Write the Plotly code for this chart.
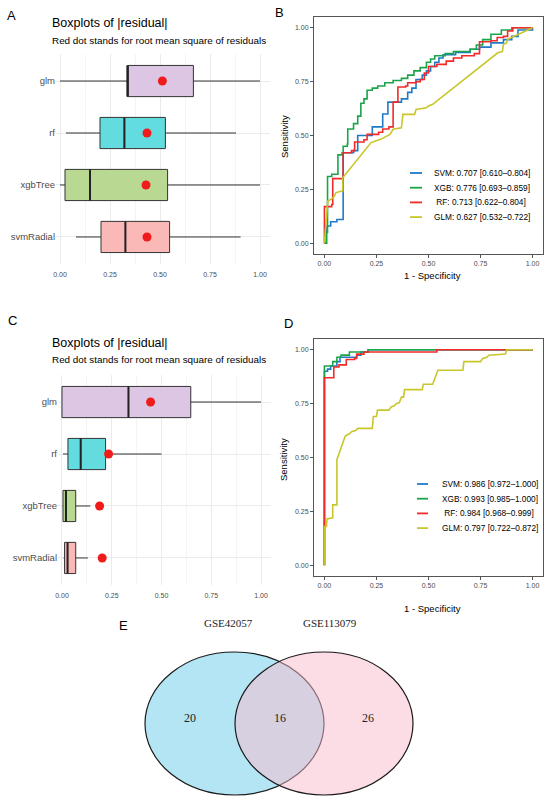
import plotly.graph_objects as go

W, H = 550, 800
FONT = "Liberation Sans, Arial, sans-serif"
SERIF = "Liberation Serif, Times New Roman, serif"


def px(x):
    # pixel column -> paper x
    return x / W


def py(y):
    # pixel row -> paper y
    return 1 - y / H


# ---- data -------------------------------------------------------------
models = ["glm", "rf", "xgbTree", "svmRadial"]
box_fill = ["#dcc6e4", "#62dcdf", "#b9d892", "#fab9b6"]
positions = [3, 2, 1, 0]

# panel A  |residual| box stats
a_low = [0.00, 0.03, 0.00, 0.08]
a_q1 = [0.337, 0.20, 0.025, 0.205]
a_med = [0.337, 0.322, 0.15, 0.327]
a_q3 = [0.667, 0.527, 0.538, 0.548]
a_high = [1.00, 0.88, 1.00, 0.903]
a_rmse = [0.512, 0.435, 0.43, 0.435]

# panel C  |residual| box stats
c_low = [0.00, 0.005, 0.003, 0.008]
c_q1 = [0.00, 0.03, 0.005, 0.013]
c_med = [0.334, 0.094, 0.02, 0.028]
c_q3 = [0.647, 0.219, 0.069, 0.069]
c_high = [1.00, 0.50, 0.142, 0.13]
c_rmse = [0.445, 0.234, 0.189, 0.202]

roc_names = ["SVM", "XGB", "RF", "GLM"]
roc_colors = ["#1f7bc8", "#1ba54b", "#f22a2a", "#c9c62c"]

auc_b = [0.707, 0.776, 0.713, 0.627]
auc_b_lo = [0.610, 0.693, 0.622, 0.532]
auc_b_hi = [0.804, 0.859, 0.804, 0.722]
auc_d = [0.986, 0.993, 0.984, 0.797]
auc_d_lo = [0.972, 0.985, 0.968, 0.722]
auc_d_hi = [1.000, 1.000, 0.999, 0.872]

# panel B ROC (step curves as hv corners, GLM as vertices)
svm_b_fpr = [0, 0.01, 0.03, 0.06, 0.09, 0.14, 0.16, 0.23, 0.28, 0.305, 0.37, 0.40, 0.42, 0.44,
             0.47, 0.49, 0.51, 0.53, 0.55, 0.57, 0.63, 0.70, 0.745, 0.80, 0.86, 0.90, 0.93, 1.0]
svm_b_tpr = [0, 0.08, 0.10, 0.11, 0.42, 0.43, 0.50, 0.54, 0.60, 0.655, 0.67, 0.70, 0.72, 0.76,
             0.78, 0.80, 0.82, 0.84, 0.86, 0.875, 0.885, 0.90, 0.91, 0.93, 0.945, 0.96, 0.99, 1.0]
xgb_b_fpr = [0, 0.01, 0.015, 0.035, 0.065, 0.085, 0.09, 0.11, 0.112, 0.14, 0.16, 0.175, 0.19, 0.205,
             0.23, 0.256, 0.29, 0.33, 0.37, 0.40, 0.43, 0.46, 0.49, 0.51, 0.53, 0.58, 0.62, 0.70,
             0.73, 0.76, 0.80, 0.85, 0.90, 1.0]
xgb_b_tpr = [0, 0.05, 0.31, 0.32, 0.41, 0.42, 0.45, 0.46, 0.53, 0.555, 0.59, 0.65, 0.67, 0.71,
             0.72, 0.73, 0.745, 0.755, 0.765, 0.78, 0.80, 0.815, 0.84, 0.855, 0.87, 0.88, 0.89, 0.90,
             0.92, 0.945, 0.97, 0.99, 1.0, 1.0]
rf_b_fpr = [0, 0, 0.035, 0.04, 0.09, 0.13, 0.145, 0.19, 0.205, 0.26, 0.28, 0.31, 0.33, 0.353,
            0.39, 0.40, 0.44, 0.46, 0.48, 0.50, 0.54, 0.585, 0.62, 0.66, 0.72, 0.745, 0.80, 0.83,
            0.86, 0.88, 0.905, 1.0]
rf_b_tpr = [0, 0.17, 0.18, 0.30, 0.42, 0.43, 0.47, 0.48, 0.505, 0.515, 0.53, 0.54, 0.655, 0.725,
            0.73, 0.745, 0.75, 0.76, 0.79, 0.82, 0.83, 0.845, 0.86, 0.87, 0.88, 0.935, 0.94, 0.955,
            0.96, 0.985, 1.0, 1.0]
glm_b_fpr = [0, 0.016, 0.032, 0.045, 0.056, 0.088, 0.088, 0.224, 0.27, 0.285, 0.30, 0.315, 0.33,
             0.37, 0.377, 0.433, 0.44, 0.49, 0.50, 0.52, 0.833, 0.855, 0.86, 0.875, 0.88, 1.0]
glm_b_tpr = [0, 0.196, 0.204, 0.215, 0.235, 0.243, 0.304, 0.467, 0.482, 0.49, 0.50, 0.505, 0.529,
             0.536, 0.598, 0.598, 0.621, 0.629, 0.637, 0.645, 0.884, 0.89, 0.923, 0.93, 0.946, 1.0]

# panel D ROC
svm_d_fpr = [0, 0, 0.015, 0.03, 0.06, 0.075, 0.15, 0.155, 0.175, 0.21, 1.0]
svm_d_tpr = [0, 0.90, 0.91, 0.925, 0.945, 0.965, 0.965, 0.975, 0.99, 1.0, 1.0]
xgb_d_fpr = [0, 0, 0.04, 0.06, 0.08, 0.12, 0.21, 1.0]
xgb_d_tpr = [0, 0.925, 0.945, 0.965, 0.975, 0.99, 1.0, 1.0]
rf_d_fpr = [0, 0, 0.045, 0.07, 0.105, 0.145, 0.155, 0.19, 0.54, 1.0]
rf_d_tpr = [0, 0.87, 0.92, 0.93, 0.955, 0.96, 0.98, 0.99, 1.0, 1.0]
glm_d_fpr = [0, 0, 0.01, 0.012, 0.04, 0.04, 0.06, 0.06, 0.10, 0.12, 0.13, 0.15, 0.16, 0.23, 0.235,
             0.25, 0.255, 0.31, 0.32, 0.335, 0.345, 0.36, 0.37, 0.38, 0.385, 0.47, 0.475, 0.52,
             0.545, 0.665, 0.67, 0.75, 0.76, 0.78, 0.79, 0.87, 0.875, 1.0]
glm_d_tpr = [0, 0.18, 0.18, 0.215, 0.22, 0.28, 0.28, 0.49, 0.60, 0.61, 0.62, 0.625, 0.635, 0.635,
             0.69, 0.69, 0.72, 0.72, 0.735, 0.74, 0.75, 0.755, 0.78, 0.78, 0.815, 0.815, 0.84, 0.84,
             0.905, 0.905, 0.945, 0.945, 0.96, 0.965, 0.975, 0.98, 1.0, 1.0]

# panel E venn
venn_sets = ["GSE42057", "GSE113079"]
venn_counts = [20, 16, 26]

roc_b = [(svm_b_fpr, svm_b_tpr, "hv"), (xgb_b_fpr, xgb_b_tpr, "hv"),
         (rf_b_fpr, rf_b_tpr, "hv"), (glm_b_fpr, glm_b_tpr, "linear")]
roc_d = [(svm_d_fpr, svm_d_tpr, "hv"), (xgb_d_fpr, xgb_d_tpr, "hv"),
         (rf_d_fpr, rf_d_tpr, "hv"), (glm_d_fpr, glm_d_tpr, "linear")]

fig = go.Figure()


def add_boxes(xa, ya, low, q1, med, q3, high, rmse):
    for i, m in enumerate(models):
        fig.add_trace(go.Box(
            y=[positions[i]], q1=[q1[i]], median=[med[i]], q3=[q3[i]],
            lowerfence=[low[i]], upperfence=[high[i]],
            orientation="h", width=0.6, whiskerwidth=0,
            fillcolor=box_fill[i], line=dict(color="#333333", width=1),
            boxpoints=False, showlegend=False, xaxis=xa, yaxis=ya, name=m,
        ))
        # thicker median like ggplot
        fig.add_trace(go.Scatter(
            x=[med[i], med[i]], y=[positions[i] - 0.3, positions[i] + 0.3],
            mode="lines", line=dict(color="#222222", width=2),
            showlegend=False, hoverinfo="skip", xaxis=xa, yaxis=ya,
        ))
    fig.add_trace(go.Scatter(
        x=rmse, y=positions, mode="markers",
        marker=dict(color="#f01c1c", size=9),
        showlegend=False, xaxis=xa, yaxis=ya,
    ))


add_boxes("x", "y", a_low, a_q1, a_med, a_q3, a_high, a_rmse)
add_boxes("x3", "y3", c_low, c_q1, c_med, c_q3, c_high, c_rmse)

for curves, xa, ya in [(roc_b, "x2", "y2"), (roc_d, "x4", "y4")]:
    for (f, t, shape), name, col in zip(curves, roc_names, roc_colors):
        fig.add_trace(go.Scatter(
            x=f, y=t, mode="lines", name=name,
            line=dict(color=col, width=1.6, shape=shape),
            showlegend=False, xaxis=xa, yaxis=ya,
        ))

tick_font = dict(family=FONT, size=7, color="#4d4d4d")
unit_ticks = [0, 0.25, 0.5, 0.75, 1]


def box_xaxis(left, right):
    return dict(domain=[px(left), px(right)], range=[-0.02, 1.05],
                tickvals=unit_ticks, tickformat=".2f", tickfont=tick_font,
                ticklabelstandoff=5,
                showgrid=True, gridcolor="#ebebeb", gridwidth=1, zeroline=False,
                minor=dict(tickvals=[0.125, 0.375, 0.625, 0.875], showgrid=True,
                           gridcolor="#f4f4f4", gridwidth=0.6),
                ticks="", showline=False, automargin=False, fixedrange=True)


def box_yaxis(top, bottom):
    return dict(domain=[py(bottom), py(top)], range=[-0.52, 3.52],
                tickvals=positions, ticktext=models,
                tickfont=dict(family=FONT, size=9.5, color="#4d4d4d"),
                showgrid=True, gridcolor="#ebebeb", gridwidth=1, zeroline=False,
                ticks="", automargin=False, fixedrange=True)


def roc_axis(dom):
    return dict(domain=dom, range=[-0.05, 1.05], tickvals=unit_ticks, tickformat=".2f",
                tickfont=tick_font, showgrid=False, zeroline=False,
                showline=True, mirror=True, linecolor="#555555", linewidth=1,
                ticks="outside", ticklen=3, tickcolor="#555555", automargin=False)


fig.update_layout(
    width=W, height=H,
    margin=dict(l=0, r=0, t=0, b=0),
    paper_bgcolor="white", plot_bgcolor="white",
    font=dict(family=FONT, color="black"),
    xaxis=dict(box_xaxis(56, 270), anchor="y"),
    yaxis=dict(box_yaxis(54, 264), anchor="x"),
    xaxis3=dict(box_xaxis(58, 271), anchor="y3"),
    yaxis3=dict(box_yaxis(375, 585), anchor="x3"),
    xaxis2=dict(roc_axis([px(314), px(543)]), anchor="y2"),
    yaxis2=dict(roc_axis([py(254), py(17)]), anchor="x2"),
    xaxis4=dict(roc_axis([px(314), px(543)]), anchor="y4"),
    yaxis4=dict(roc_axis([py(576), py(339)]), anchor="x4"),
)

ann = []


def text(x, y, s, size, anchor="left", color="black", family=FONT, angle=0):
    ann.append(dict(x=px(x), y=py(y), xref="paper", yref="paper", text=s,
                    showarrow=False, xanchor=anchor, yanchor="middle",
                    textangle=angle, font=dict(family=family, size=size, color=color)))


# panel letters
for lab, lx, ly in [("A", 11, 15), ("B", 279, 13), ("C", 12, 320), ("D", 288, 323), ("E", 123, 625)]:
    text(lx, ly, lab, 13, anchor="center")

# box panel titles
for ty in [23, 343]:
    text(50, ty, "Boxplots of |residual|", 12.5)
    text(50, ty + 17, "Red dot stands for root mean square of residuals", 9.9)

# ROC axis titles
for ybot, ymid in [(275, 137), (608, 460)]:
    text(432, ybot, "1 - Specificity", 9.5, anchor="center")
    text(284, ymid, "Sensitivity", 9.5, anchor="center", angle=-90)

# ROC legends (drawn by hand to match compact ggplot key)
shapes = []
legends = [((410, 422, 432, 173), auc_b, auc_b_lo, auc_b_hi),
           ((417, 428, 440, 484), auc_d, auc_d_lo, auc_d_hi)]
for (l0, l1, tx, y0), auc, lo, hi in legends:
    for i, name in enumerate(roc_names):
        yy = y0 + i * 14.7
        lab = name if len(name) == 3 else "\u00a0" + name
        text(tx, yy, f"{lab}: {auc[i]:.3f} [{lo[i]:.3f}\u2013{hi[i]:.3f}]", 8.3)
        shapes.append(dict(type="line", xref="paper", yref="paper",
                           x0=px(l0), x1=px(l1), y0=py(yy), y1=py(yy),
                           line=dict(color=roc_colors[i], width=1.8)))

# venn diagram
venn_fill = ["rgba(103,203,235,0.5)", "rgba(251,187,203,0.5)"]
venn_box = [(145, 324), (235, 413)]
for (x0, x1), fc in zip(venn_box, venn_fill):
    shapes.append(dict(type="circle", xref="paper", yref="paper",
                       x0=px(x0), x1=px(x1), y0=py(795), y1=py(652),
                       fillcolor=fc, line=dict(color="#1a1a1a", width=1.2)))

for name, cx in zip(venn_sets, [228, 330]):
    text(cx, 623, name, 11, anchor="center", family=SERIF, color="#222222")
for n, cx in zip(venn_counts, [190, 280, 368]):
    text(cx, 718, str(n), 12, anchor="center", family=SERIF, color="#222222")

fig.update_layout(annotations=ann, shapes=shapes)

# drop the default 8px page margin so the figure sits at the window corner
fig.write_html("out.html", config={"displayModeBar": False},
               post_script="document.body.style.margin='0px';")
